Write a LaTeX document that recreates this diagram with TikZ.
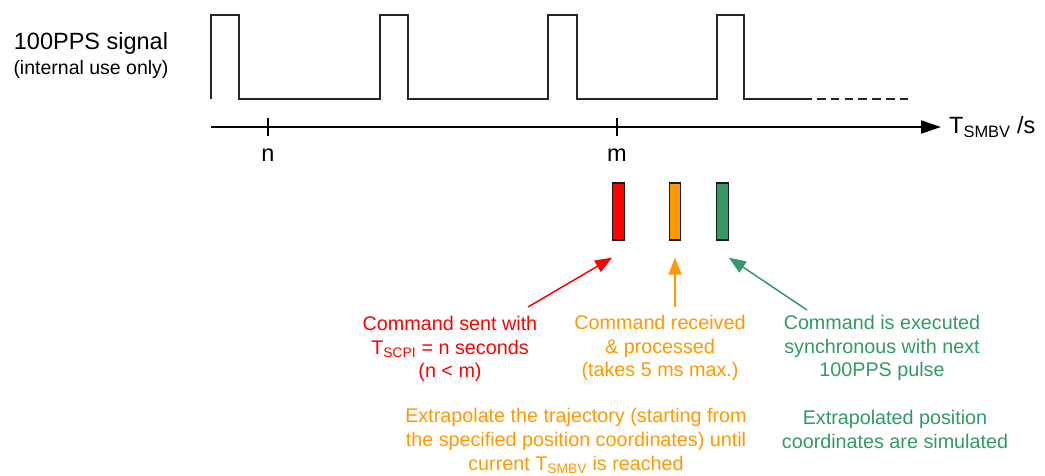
\documentclass[tikz,border=0pt]{standalone}
\usepackage{fontspec}
\setmainfont{Liberation Sans}
\usetikzlibrary{arrows.meta}
\definecolor{cred}{HTML}{FF0000}
\definecolor{corange}{HTML}{FF9900}
\definecolor{cgreen}{HTML}{339966}
\tikzset{
  signal/.style={line width=1.4pt, black!85},
  axisline/.style={line width=2.2pt, -{Triangle[length=20pt,width=13pt]}},
  tickmark/.style={line width=2pt},
  bigtxt/.style={font=\fontsize{23.5}{28}\selectfont, inner sep=0pt},
  lbl/.style={font=\fontsize{19.75}{23.8}\selectfont, align=center, inner sep=0pt},
  bar/.style={draw=black!90, line width=1.3pt, minimum width=11.5pt, minimum height=57pt, inner sep=0pt},
  carrow/.style={line width=1.5pt, -{Triangle[length=17pt,width=13pt]}},
}
\begin{document}
\begin{tikzpicture}[x=1pt,y=-1pt]
\useasboundingbox (0,0) rectangle (1045,475);
% left label
\node[bigtxt] (siglab) at (91,43) {100PPS signal};
\node[font=\fontsize{19.5}{23}\selectfont, inner sep=0pt] (siglab2) at (91,69) {(internal use only)};
% signal
\draw[signal] (211,99) -- (211,15) -- (239,15) -- (239,99) -- (380,99) -- (380,15) -- (408,15) -- (408,99)
  -- (548,99) -- (548,15) -- (577,15) -- (577,99) -- (717,99) -- (717,15) -- (744,15) -- (744,99) -- (812,99);
\draw[signal, dash pattern=on 8.5pt off 5.3pt] (817,99) -- (913,99);
% axis
\coordinate (axstart) at (211,127);
\coordinate (axend) at (941,127);
\draw[axisline] (axstart) -- (axend);
\coordinate (nt) at (268,127);
\coordinate (mt) at (617,127);
\draw[tickmark] ([yshift=9pt]nt) -- ([yshift=-9pt]nt);
\draw[tickmark] ([yshift=9pt]mt) -- ([yshift=-9pt]mt);
\node[bigtxt] (nlab) at (268,155) {n};
\node[bigtxt] (mlab) at (617,155) {m};
\node[bigtxt, anchor=west] (tlab) at (949,127) {T\textsubscript{SMBV} /s};
% bars
\node[bar, fill=cred] (redbar) at (618.5,211.5) {};
\node[bar, fill=corange] (orangebar) at (675,211.5) {};
\node[bar, fill=cgreen] (greenbar) at (722.5,211.5) {};
% texts
\node[lbl, text=cred] (redtxt) at (450,349) {Command sent with\\T\textsubscript{SCPI} = n seconds\\(n < m)};
\node[lbl, text=corange] (orgtxt) at (660,348) {Command received\\\& processed\\(takes 5 ms max.)};
\node[lbl, text=cgreen] (grntxt) at (882,348) {Command is executed\\synchronous with next\\100PPS pulse};
\node[lbl, text=corange] (orgtxt2) at (576,441) {Extrapolate the trajectory (starting from\\the specified position coordinates) until\\current T\textsubscript{SMBV} is reached};
\node[lbl, text=cgreen] (grntxt2) at (895,429.5) {Extrapolated position\\coordinates are simulated};
% arrows
\coordinate (rs) at (528,307);
\coordinate (os) at (675,307);
\coordinate (gs) at (807,310);
\draw[carrow, cred] (rs) -- ([yshift=-17pt]redbar.south west);
\draw[carrow, corange] (os) -- ([yshift=-17pt]orangebar.south);
\draw[carrow, cgreen] (gs) -- ([yshift=-17pt]greenbar.south east);
\end{tikzpicture}
\end{document}
